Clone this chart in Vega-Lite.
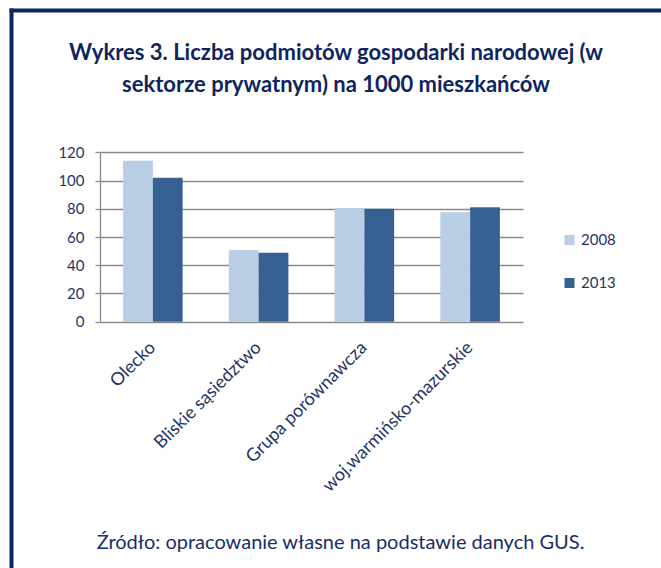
{
  "$schema": "https://vega.github.io/schema/vega-lite/v6.json",
  "width": 650,
  "height": 558,
  "autosize": {"type": "none"},
  "padding": {"left": 11, "top": 10, "right": 0, "bottom": 0},
  "background": "white",
  "config": {"view": {"stroke": null}, "font": "Lato"},
  "title": {
    "text": ["Wykres 3. Liczba podmiotów gospodarki narodowej (w", "sektorze prywatnym) na 1000 mieszkańców"],
    "anchor": "middle",
    "frame": "group",
    "orient": "top",
    "offset": -104,
    "baseline": "alphabetic",
    "fontSize": 22,
    "fontWeight": "bold",
    "font": "Lato",
    "color": "#0e2560",
    "lineHeight": 32
  },
  "data": {
    "values": [
      {"region": "Olecko", "year": "2008", "value": 114},
      {"region": "Olecko", "year": "2013", "value": 102},
      {"region": "Bliskie sąsiedztwo", "year": "2008", "value": 50.8},
      {"region": "Bliskie sąsiedztwo", "year": "2013", "value": 48.9},
      {"region": "Grupa porównawcza", "year": "2008", "value": 80.6},
      {"region": "Grupa porównawcza", "year": "2013", "value": 80.1},
      {"region": "woj.warmińsko-mazurskie", "year": "2008", "value": 77.5},
      {"region": "woj.warmińsko-mazurskie", "year": "2013", "value": 81.1}
    ]
  },
  "layer": [
    {
      "mark": {"type": "bar"},
      "encoding": {
        "x": {
          "field": "region",
          "type": "nominal",
          "sort": null,
          "scale": {"range": [89, 512], "paddingInner": 0.437, "paddingOuter": 0.2185},
          "axis": {
            "orient": "bottom",
            "offset": -246.3,
            "domain": false,
            "ticks": false,
            "grid": false,
            "labelAngle": -45,
            "labelAlign": "right",
            "labelBaseline": "middle",
            "labelPadding": 23,
            "labelFontSize": 18,
            "labelFont": "Lato",
            "labelColor": "#1f3566",
            "labelOverlap": false,
            "labelLimit": 0,
            "title": "Źródło: opracowanie własne na podstawie danych GUS.",
            "titleX": 329,
            "titleY": 227,
            "titleAlign": "center",
            "titleAnchor": null,
            "titleBaseline": "alphabetic",
            "titleFontSize": 20,
            "titleFontWeight": "normal",
            "titleFont": "Lato",
            "titleColor": "#172f66"
          }
        },
        "xOffset": {"field": "year", "type": "nominal", "scale": {"paddingInner": 0, "paddingOuter": 0}},
        "y": {
          "field": "value",
          "type": "quantitative",
          "scale": {"domain": [0, 120], "range": [311.7, 142.3], "nice": false, "zero": true},
          "axis": {
            "orient": "left",
            "offset": -89,
            "values": [0, 20, 40, 60, 80, 100, 120],
            "grid": true,
            "gridColor": "#8a8a8a",
            "gridWidth": 1.3,
            "domainColor": "#8a8a8a",
            "domainWidth": 1.3,
            "tickColor": "#8a8a8a",
            "tickWidth": 1.3,
            "tickSize": 5,
            "labelPadding": 11,
            "labelFontSize": 15,
            "labelFont": "Lato",
            "labelColor": "#1f3566",
            "title": null
          }
        },
        "color": {
          "field": "year",
          "type": "nominal",
          "scale": {"range": ["#b9cde5", "#376092"]},
          "legend": {
            "orient": "none",
            "legendX": 551,
            "legendY": 222.5,
            "title": null,
            "padding": 0,
            "symbolType": "square",
            "symbolSize": 100,
            "symbolStrokeWidth": 0,
            "labelFontSize": 15,
            "labelFont": "Lato",
            "labelColor": "#1f3566",
            "labelOffset": 4,
            "rowPadding": 27
          }
        }
      }
    },
    {
      "mark": {"type": "point", "opacity": 0},
      "encoding": {
        "x": {
          "datum": 0,
          "type": "quantitative",
          "scale": {"domain": [0, 1]},
          "axis": {"orient": "top", "offset": 0, "zindex": 3, "domainColor": "#0c2460", "domainWidth": 4, "domainCap": "square", "ticks": false, "labels": false, "grid": false, "title": null}
        },
        "y": {
          "datum": 0,
          "type": "quantitative",
          "scale": {"domain": [0, 1]},
          "axis": {"orient": "left", "offset": 0, "zindex": 3, "domainColor": "#0c2460", "domainWidth": 4, "domainCap": "square", "ticks": false, "labels": false, "grid": false, "title": null}
        }
      }
    }
  ],
  "resolve": {
    "scale": {"x": "independent", "y": "independent", "color": "independent"},
    "axis": {"x": "independent", "y": "independent"}
  }
}
